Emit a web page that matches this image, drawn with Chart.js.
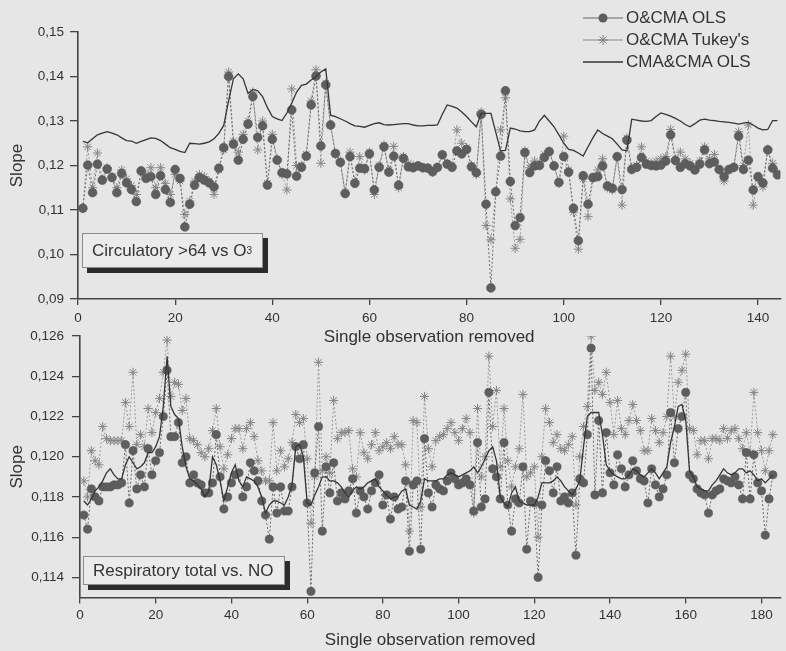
<!DOCTYPE html>
<html>
<head>
<meta charset="utf-8">
<script src="https://cdn.jsdelivr.net/npm/chart.js@4.4.1/dist/chart.umd.min.js"></script>
<style>
html,body{margin:0;padding:0;background:#e6e6e6;}
#wrap{position:relative;width:786px;height:651px;overflow:hidden;font-family:"Liberation Sans",Arial,sans-serif;color:#333;}
canvas{position:absolute;left:0;}
#c1{top:0;}
#c2{top:320px;}
.note{position:absolute;z-index:5;background:#ebebeb;border:1px solid #8c8c8c;box-shadow:5px 5px 0 #2b2b2b;font-size:17px;line-height:1;box-sizing:border-box;display:flex;align-items:center;padding-left:9px;color:#333;white-space:nowrap;}
.note sub{font-size:10px;vertical-align:-4px;line-height:0;}
#legend{position:absolute;z-index:5;left:582px;top:7px;font-size:17px;color:#333;}
#legend .row{display:flex;align-items:center;height:22px;}
#legend svg{display:block;margin-right:2px;}
</style>
</head>
<body>
<div id="wrap">
  <canvas id="c1" width="786" height="350" style="width:786px;height:350px"></canvas>
  <canvas id="c2" width="786" height="331" style="width:786px;height:331px"></canvas>
  <div id="legend">
    <div class="row"><svg width="42" height="22"><line x1="1" y1="11" x2="41" y2="11" stroke="#666" stroke-width="1"/><circle cx="21" cy="11" r="4.5" fill="#5c5c5c"/></svg><span>O&amp;CMA OLS</span></div>
    <div class="row"><svg width="42" height="22"><line x1="1" y1="11" x2="41" y2="11" stroke="#888" stroke-width="1"/><g stroke="#808080" stroke-width="1"><line x1="16" y1="11" x2="26" y2="11"/><line x1="21" y1="6" x2="21" y2="16"/><line x1="17.5" y1="7.5" x2="24.5" y2="14.5"/><line x1="17.5" y1="14.5" x2="24.5" y2="7.5"/></g></svg><span>O&amp;CMA Tukey's</span></div>
    <div class="row"><svg width="42" height="22"><line x1="1" y1="11" x2="41" y2="11" stroke="#333" stroke-width="1.3"/></svg><span>CMA&amp;CMA OLS</span></div>
  </div>
  <div class="note" style="left:82px;top:233px;width:181px;height:35px;">Circulatory &gt;64 vs O<sub>3</sub></div>
  <div class="note" style="left:83px;top:556px;width:202px;height:29px;">Respiratory total vs. NO</div>
</div>
<script>
// ---------- Top panel data (observation 1..144) ----------
const topOLS = [0.1104,0.1201,0.1139,0.1203,0.1167,0.1192,0.1173,0.1139,0.1182,0.1161,
0.1146,0.1119,0.1188,0.1171,0.1175,0.1135,0.1177,0.1146,0.1117,0.1191,
0.1171,0.1062,0.1113,0.1156,0.1173,0.1167,0.1161,0.1152,0.1194,0.1240,
0.1400,0.1248,0.1212,0.1259,0.1293,0.1355,0.1263,0.1289,0.1156,0.1259,
0.1212,0.1184,0.1181,0.1325,0.1176,0.1196,0.1221,0.1336,0.1401,0.1244,
0.1381,0.1291,0.1227,0.1207,0.1137,0.1220,0.1160,0.1194,0.1193,0.1226,
0.1145,0.1196,0.1242,0.1185,0.1221,0.1156,0.1216,0.1197,0.1195,0.1199,
0.1195,0.1194,0.1186,0.1196,0.1224,0.1203,0.1196,0.1233,0.1226,0.1236,
0.1197,0.1184,0.1315,0.1113,0.0925,0.1141,0.1221,0.1368,0.1164,0.1065,
0.1083,0.1229,0.1184,0.1199,0.1200,0.1218,0.1231,0.1199,0.1162,0.1220,
0.1185,0.1104,0.1031,0.1177,0.1113,0.1173,0.1175,0.1199,0.1154,0.1149,
0.1220,0.1146,0.1257,0.1191,0.1196,0.1218,0.1203,0.1200,0.1199,0.1201,
0.1210,0.1269,0.1211,0.1196,0.1204,0.1199,0.1190,0.1203,0.1235,0.1204,
0.1208,0.1191,0.1175,0.1191,0.1196,0.1266,0.1191,0.1212,0.1145,0.1175,
0.1161,0.1235,0.1194,0.1179];
const topTukey = [0.1104,0.1242,0.1150,0.1228,0.1170,0.1195,0.1175,0.1150,0.1190,0.1170,
0.1155,0.1135,0.1185,0.1180,0.1195,0.1150,0.1195,0.1160,0.1135,0.1180,
0.1165,0.1090,0.1120,0.1165,0.1180,0.1175,0.1165,0.1135,0.1190,0.1235,
0.1410,0.1255,0.1230,0.1270,0.1300,0.1365,0.1235,0.1300,0.1160,0.1270,
0.1215,0.1180,0.1145,0.1372,0.1200,0.1200,0.1225,0.1345,0.1415,0.1205,
0.1385,0.1290,0.1225,0.1210,0.1140,0.1230,0.1165,0.1220,0.1190,0.1230,
0.1135,0.1200,0.1246,0.1190,0.1243,0.1150,0.1220,0.1205,0.1200,0.1200,
0.1195,0.1195,0.1185,0.1195,0.1225,0.1205,0.1200,0.1280,0.1250,0.1240,
0.1200,0.1180,0.1320,0.1065,0.1033,0.1140,0.1280,0.1352,0.1125,0.1014,
0.1034,0.1233,0.1195,0.1210,0.1205,0.1225,0.1233,0.1200,0.1160,0.1266,
0.1190,0.1095,0.1012,0.1170,0.1085,0.1170,0.1190,0.1215,0.1150,0.1145,
0.1220,0.1111,0.1262,0.1195,0.1200,0.1242,0.1210,0.1205,0.1210,0.1215,
0.1220,0.1281,0.1215,0.1230,0.1215,0.1205,0.1190,0.1210,0.1242,0.1215,
0.1225,0.1190,0.1165,0.1190,0.1195,0.1276,0.1200,0.1291,0.1111,0.1170,
0.1152,0.1237,0.1205,0.1185];
const topCMA = [0.1254,0.1251,0.1260,0.1269,0.1273,0.1276,0.1273,0.1269,0.1262,0.1256,
0.1255,0.1250,0.1254,0.1258,0.1262,0.1261,0.1256,0.1248,0.1240,0.1236,
0.1232,0.1229,0.1250,0.1249,0.1248,0.1250,0.1253,0.1260,0.1272,0.1290,
0.1345,0.1395,0.1406,0.1395,0.1362,0.1371,0.1368,0.1355,0.1330,0.1310,
0.1305,0.1301,0.1318,0.1340,0.1365,0.1380,0.1383,0.1392,0.1400,0.1410,
0.1417,0.1313,0.1310,0.1305,0.1300,0.1294,0.1289,0.1288,0.1286,0.1290,
0.1294,0.1296,0.1292,0.1291,0.1292,0.1293,0.1294,0.1294,0.1291,0.1289,
0.1289,0.1290,0.1290,0.1291,0.1315,0.1336,0.1333,0.1329,0.1320,0.1310,
0.1298,0.1287,0.1317,0.1317,0.1317,0.1275,0.1233,0.1234,0.1284,0.1282,
0.1278,0.1276,0.1276,0.1280,0.1300,0.1313,0.1300,0.1287,0.1269,0.1250,
0.1236,0.1234,0.1228,0.1221,0.1242,0.1262,0.1280,0.1272,0.1266,0.1260,
0.1248,0.1235,0.1233,0.1304,0.1302,0.1300,0.1299,0.1301,0.1310,0.1318,
0.1315,0.1311,0.1306,0.1300,0.1292,0.1287,0.1294,0.1302,0.1304,0.1302,
0.1301,0.1299,0.1298,0.1297,0.1295,0.1293,0.1295,0.1297,0.1291,0.1284,
0.1280,0.1281,0.1301,0.1301];
const topXTicks = [0,20,40,60,80,100,120,140];
const topXTickLabels = ['0','20','40','60','80','100','120','140'];
const topYTicks = [0.09,0.10,0.11,0.12,0.13,0.14,0.15];
const topYTickLabels = ['0,09','0,10','0,11','0,12','0,13','0,14','0,15'];

// ---------- Bottom panel data (observation 1..183) ----------
const botOLS = [0.1171,0.1164,0.1184,0.1180,0.1178,0.1185,0.1185,0.1185,0.1186,0.1186,
0.1187,0.1206,0.1177,0.1203,0.1184,0.1191,0.1185,0.1204,0.1191,0.1198,
0.1202,0.1220,0.1243,0.1210,0.1210,0.1217,0.1197,0.1200,0.1187,0.1191,
0.1187,0.1186,0.1182,0.1182,0.1187,0.1211,0.1190,0.1174,0.1180,0.1187,
0.1191,0.1192,0.1180,0.1185,0.1197,0.1193,0.1188,0.1178,0.1171,0.1159,
0.1185,0.1172,0.1185,0.1173,0.1173,0.1185,0.1205,0.1199,0.1206,0.1177,
0.1133,0.1192,0.1215,0.1163,0.1195,0.1182,0.1197,0.1178,0.1182,0.1179,
0.1183,0.1189,0.1172,0.1183,0.1180,0.1174,0.1183,0.1187,0.1191,0.1176,
0.1181,0.1169,0.1180,0.1174,0.1175,0.1188,0.1153,0.1186,0.1188,0.1154,
0.1209,0.1182,0.1175,0.1186,0.1184,0.1183,0.1188,0.1192,0.1189,0.1186,
0.1187,0.1189,0.1186,0.1173,0.1207,0.1175,0.1179,0.1232,0.1194,0.1190,
0.1179,0.1207,0.1176,0.1163,0.1179,0.1177,0.1195,0.1154,0.1178,0.1177,
0.1140,0.1176,0.1198,0.1193,0.1182,0.1195,0.1178,0.1180,0.1177,0.1182,
0.1151,0.1189,0.1187,0.1211,0.1254,0.1181,0.1218,0.1182,0.1212,0.1192,
0.1186,0.1201,0.1194,0.1185,0.1191,0.1198,0.1193,0.1189,0.1188,0.1177,
0.1194,0.1186,0.1180,0.1184,0.1191,0.1222,0.1197,0.1214,0.1220,0.1232,
0.1191,0.1189,0.1184,0.1182,0.1181,0.1172,0.1181,0.1183,0.1184,0.1189,
0.1188,0.1187,0.1190,0.1186,0.1179,0.1202,0.1179,0.1201,0.1187,0.1183,
0.1161,0.1179,0.1191];
const botTukey = [0.1188,0.1180,0.1203,0.1198,0.1196,0.1215,0.1209,0.1208,0.1208,0.1208,
0.1208,0.1227,0.1215,0.1242,0.1206,0.1211,0.1205,0.1224,0.1212,0.1222,
0.1229,0.1242,0.1258,0.1230,0.1237,0.1236,0.1223,0.1229,0.1209,0.1208,
0.1206,0.1202,0.1200,0.1204,0.1213,0.1224,0.1205,0.1194,0.1201,0.1209,
0.1214,0.1214,0.1204,0.1214,0.1217,0.1210,0.1198,0.1193,0.1188,0.1188,
0.1217,0.1193,0.1203,0.1195,0.1199,0.1207,0.1221,0.1217,0.1219,0.1199,
0.1167,0.1190,0.1247,0.1193,0.1200,0.1192,0.1228,0.1209,0.1212,0.1212,
0.1213,0.1194,0.1190,0.1212,0.1202,0.1199,0.1206,0.1212,0.1203,0.1205,
0.1207,0.1204,0.1210,0.1206,0.1206,0.1196,0.1163,0.1218,0.1217,0.1175,
0.1230,0.1204,0.1195,0.1208,0.1210,0.1211,0.1214,0.1217,0.1212,0.1208,
0.1214,0.1219,0.1212,0.1172,0.1224,0.1190,0.1200,0.1250,0.1215,0.1233,
0.1195,0.1224,0.1198,0.1185,0.1195,0.1204,0.1231,0.1190,0.1192,0.1195,
0.1160,0.1200,0.1224,0.1217,0.1207,0.1211,0.1204,0.1203,0.1206,0.1210,
0.1176,0.1200,0.1215,0.1225,0.1260,0.1233,0.1237,0.1231,0.1242,0.1227,
0.1211,0.1228,0.1214,0.1211,0.1218,0.1226,0.1218,0.1213,0.1203,0.1203,
0.1219,0.1213,0.1207,0.1212,0.1220,0.1250,0.1220,0.1237,0.1243,0.1251,
0.1214,0.1213,0.1201,0.1208,0.1208,0.1199,0.1209,0.1209,0.1208,0.1214,
0.1209,0.1213,0.1214,0.1209,0.1204,0.1212,0.1202,0.1232,0.1212,0.1203,
0.1193,0.1203,0.1211];
const botCMA = [0.1178,0.1176,0.1179,0.1183,0.1185,0.1188,0.1192,0.1194,0.1191,0.1189,
0.1189,0.1196,0.1200,0.1197,0.1194,0.1195,0.1197,0.1202,0.1202,0.1205,
0.1210,0.1225,0.1250,0.1225,0.1221,0.1219,0.1205,0.1195,0.1189,0.1188,
0.1186,0.1184,0.1180,0.1183,0.1200,0.1196,0.1188,0.1178,0.1185,0.1192,
0.1196,0.1188,0.1185,0.1190,0.1189,0.1188,0.1185,0.1180,0.1172,0.1176,
0.1178,0.1178,0.1177,0.1176,0.1180,0.1186,0.1205,0.1206,0.1200,0.1177,
0.1176,0.1181,0.1185,0.1190,0.1190,0.1188,0.1188,0.1187,0.1185,0.1182,
0.1180,0.1183,0.1185,0.1184,0.1185,0.1187,0.1188,0.1189,0.1185,0.1183,
0.1181,0.1179,0.1180,0.1180,0.1183,0.1184,0.1176,0.1175,0.1174,0.1178,
0.1189,0.1188,0.1188,0.1188,0.1189,0.1189,0.1191,0.1192,0.1191,0.1190,
0.1191,0.1192,0.1193,0.1195,0.1192,0.1195,0.1199,0.1203,0.1205,0.1198,
0.1180,0.1177,0.1175,0.1182,0.1185,0.1178,0.1177,0.1176,0.1176,0.1176,
0.1180,0.1187,0.1187,0.1187,0.1188,0.1190,0.1188,0.1185,0.1183,0.1181,
0.1184,0.1188,0.1205,0.1220,0.1222,0.1222,0.1222,0.1211,0.1196,0.1193,
0.1191,0.1190,0.1189,0.1189,0.1191,0.1194,0.1193,0.1191,0.1190,0.1192,
0.1194,0.1192,0.1189,0.1192,0.1195,0.1207,0.1215,0.1225,0.1226,0.1218,
0.1193,0.1190,0.1185,0.1184,0.1183,0.1183,0.1186,0.1188,0.1191,0.1194,
0.1192,0.1191,0.1192,0.1194,0.1194,0.1192,0.1193,0.1191,0.1188,0.1189,
0.1187,0.1189,0.1191];
const botXTicks = [0,20,40,60,80,100,120,140,160,180];
const botXTickLabels = ['0','20','40','60','80','100','120','140','160','180'];
const botYTicks = [0.114,0.116,0.118,0.120,0.122,0.124,0.126];
const botYTickLabels = ['0,114','0,116','0,118','0,120','0,122','0,124','0,126'];

const seriesNames = ["O&CMA OLS", "O&CMA Tukey's", "CMA&CMA OLS"];
const xTitle = 'Single observation removed';
const yTitle = 'Slope';

// ---------- helpers ----------
const FONT = '"Liberation Sans", Arial, sans-serif';
const AX = '#444';
const TXT = '#333';
function pts(vals){ return vals.map((v,i)=>({x:i+1, y:v})); }

function datasets(ols, tukey, cma, r){
  return [
    {label: seriesNames[2], data: pts(cma), borderColor:'#353535', borderWidth:1.3,
     pointRadius:0, tension:0, order:0},
    {label: seriesNames[0], data: pts(ols), borderColor:'#6a6a6a', borderWidth:1,
     borderDash:[2,2], pointStyle:'circle', pointRadius:r, pointBackgroundColor:'#5e5e5e',
     pointBorderColor:'#555', pointBorderWidth:0.6, order:1},
    {label: seriesNames[1], data: pts(tukey), borderColor:'#9a9a9a', borderWidth:1,
     borderDash:[2,2], pointStyle:'star', pointRadius:4.6, pointBorderColor:'#858585',
     pointBackgroundColor:'#858585', pointBorderWidth:1, order:2}
  ];
}

function config(o){
  return {
    type:'line',
    data:{datasets: datasets(o.ols, o.tukey, o.cma, o.r)},
    options:{
      responsive:false, animation:false, devicePixelRatio:1,
      layout:{padding:o.pad},
      plugins:{legend:{display:false}, tooltip:{enabled:false}},
      events:[],
      scales:{
        x:{type:'linear', min:0, max:o.xmax,
           afterBuildTicks:s=>{s.ticks = o.xt.map(v=>({value:v}));},
           afterFit:s=>{s.height = o.xh;},
           ticks:{callback:(v,i)=>o.xl[i], font:{family:FONT,size:13.5}, color:TXT,
                  padding:o.xpad, maxRotation:0, autoSkip:false},
           grid:{display:true, drawOnChartArea:false, drawTicks:true, tickLength:6, color:AX, lineWidth:1.3},
           border:{display:true, color:AX, width:1.6},
           title:{display:true, text:xTitle, color:TXT, font:{family:FONT,size:17},
                  padding:{top:0,bottom:o.tpb}}},
        y:{type:'linear', min:o.ymin, max:o.ymax,
           afterBuildTicks:s=>{s.ticks = o.yt.map(v=>({value:v}));},
           afterFit:s=>{s.width = o.yw;},
           ticks:{callback:(v,i)=>o.yl[i], font:{family:FONT,size:13.5}, color:TXT, padding:o.ypad, autoSkip:false},
           grid:{display:true, drawOnChartArea:false, drawTicks:true, tickLength:8, color:AX, lineWidth:1.3},
           border:{display:true, color:AX, width:1.6},
           title:{display:true, text:yTitle, color:TXT, font:{family:FONT,size:17},
                  padding:{top:7,bottom:0}}}
      }
    }
  };
}

new Chart(document.getElementById('c1'), config({
  ols:topOLS, tukey:topTukey, cma:topCMA, r:4.4,
  xmax:144.6, xt:topXTicks, xl:topXTickLabels, yt:topYTicks, yl:topYTickLabels,
  ymin:0.09, ymax:0.15, pad:{left:0,right:2,top:32,bottom:0},
  xh:51, yw:78, xpad:5, ypad:6, tpb:2
}));

new Chart(document.getElementById('c2'), config({
  ols:botOLS, tukey:botTukey, cma:botCMA, r:4.1,
  xmax:185, xt:botXTicks, xl:botXTickLabels, yt:botYTicks, yl:botYTickLabels,
  ymin:0.113, ymax:0.126, pad:{left:0,right:1,top:12,bottom:0},
  xh:53.5, yw:80, xpad:4, ypad:8, tpb:0
}));
</script>
</body>
</html>
